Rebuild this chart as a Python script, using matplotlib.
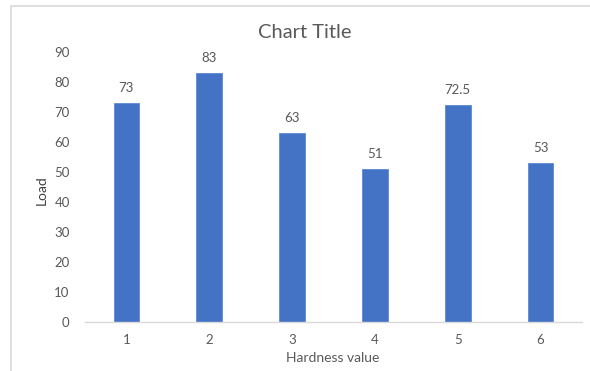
import matplotlib
matplotlib.use("Agg")
import matplotlib.pyplot as plt
from matplotlib.patches import Rectangle

# data
hardness = ["1", "2", "3", "4", "5", "6"]
load = [73, 83, 63, 51, 72.5, 53]
value_labels = ["73", "83", "63", "51", "72.5", "53"]

plt.rcParams['font.family'] = ['Lato', 'DejaVu Sans']
text_grey = '#595959'
bar_blue = '#4472C4'

fig = plt.figure(figsize=(5.9, 3.71), dpi=100)
W, H = 590, 371

# chart frame (cropped screenshot, right/bottom edges cut off)
fig.patches.append(Rectangle((11 / W, -0.05), 1.0, 1 - 6 / H + 0.05, transform=fig.transFigure,
                             fill=False, edgecolor='#d9d9d9', linewidth=1.2))

ax = fig.add_axes([85 / W, 1 - 322 / H, (582 - 85) / W, (322 - 52) / H])
x = list(range(1, len(hardness) + 1))
bars = ax.bar(x, load, width=0.31, color=bar_blue, edgecolor='#5b8ad6', linewidth=0.6)
for b, lab in zip(bars, value_labels):
    ax.text(b.get_x() + b.get_width() / 2, b.get_height() + 3, lab,
            ha='center', va='bottom', fontsize=9.5, color=text_grey)

ax.set_xlim(0.5, 6.5)
ax.set_ylim(0, 90)
ax.set_yticks(range(0, 91, 10))
ax.set_xticks(x)
ax.set_xticklabels(hardness)
ax.tick_params(axis='both', length=0, labelsize=9.5, colors=text_grey)
ax.tick_params(axis='x', pad=9)
ax.tick_params(axis='y', pad=11)
for s in ['top', 'right', 'left']:
    ax.spines[s].set_visible(False)
ax.spines['bottom'].set_color('#d9d9d9')
ax.spines['bottom'].set_linewidth(1.0)

fig.text(305 / W, 1 - 33 / H, "Chart Title", ha='center', va='center', fontsize=14.5, color=text_grey)
fig.text(42 / W, 1 - 190 / H, "Load", ha='center', va='center', rotation=90, fontsize=10, color='#404040')
fig.text(333 / W, 1 - 358 / H, "Hardness value", ha='center', va='center', fontsize=10, color=text_grey)

fig.savefig("out.png", dpi=100)
